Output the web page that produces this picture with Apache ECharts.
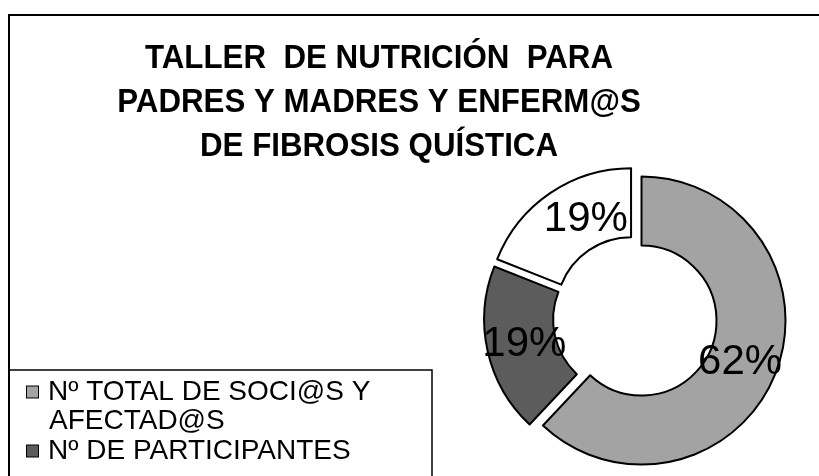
<!DOCTYPE html>
<html>
<head>
<meta charset="utf-8">
<script src="https://cdn.jsdelivr.net/npm/echarts@6/dist/echarts.min.js"></script>
<style>
  html, body { margin: 0; padding: 0; background: #fff; }
  #chart { width: 819px; height: 476px; }
</style>
</head>
<body>
<div id="chart"></div>
<script>
// datos del gráfico
const titleLines = ['TALLER  DE NUTRICIÓN  PARA', 'PADRES Y MADRES Y ENFERM@S', 'DE FIBROSIS QUÍSTICA']
const sliceNames = ['Nº TOTAL DE SOCI@S Y\nAFECTAD@S', 'Nº DE PARTICIPANTES', 'OTROS']
const sliceValues = [62, 19, 19]
const sliceColors = ['#a3a3a3', '#5c5c5c', '#ffffff']
const legendNames = sliceNames.slice(0, 2)
// Excel no centra las etiquetas igual: se desplazan con padding asimétrico
const labelPadding = [[0, 12, 8, 0], [14, 0, 0, 12], [10, 0, 0, 36]]

const chart = echarts.init(document.getElementById('chart'), null, { renderer: 'canvas' })

const legendRich = {
  g: { width: 10 },
  s: { width: 22 },
  t: {
    fontFamily: '"Liberation Sans", Arial, sans-serif',
    fontSize: 28,
    lineHeight: 29,
    color: '#000'
  }
}
legendNames.forEach((n, i) => {
  legendRich['m' + i] = {
    width: 11,
    height: 11,
    backgroundColor: sliceColors[i],
    borderColor: '#000',
    borderWidth: 1
  }
})

const option = {
  animation: false,
  backgroundColor: '#fff',
  legend: {
    orient: 'vertical',
    left: 22,
    top: 378,
    padding: 0,
    data: legendNames,
    itemWidth: 0,
    itemHeight: 0,
    itemGap: 2,
    icon: 'rect',
    itemStyle: { opacity: 0, borderWidth: 0 },
    selectedMode: false,
    formatter: function (name) {
      const i = legendNames.indexOf(name)
      return name.split('\n').map(function (line, j) {
        return (j === 0 ? '{m' + i + '|}{g|}' : '{s|}') + '{t|' + line + '}'
      }).join('\n')
    },
    textStyle: { rich: legendRich }
  },
  graphic: [
    // marco exterior
    {
      type: 'rect',
      shape: { x: 9, y: 15, width: 830, height: 500 },
      style: { fill: 'none', stroke: '#000', lineWidth: 2 },
      silent: true,
      z: -1
    },
    // caja de la leyenda
    {
      type: 'rect',
      shape: { x: 9, y: 370, width: 423, height: 120 },
      style: { fill: 'none', stroke: '#000', lineWidth: 1.5 },
      silent: true,
      z: -1
    },
    // título (la fuente del original es algo más estrecha)
    {
      type: 'text',
      x: 379,
      y: 37,
      scaleX: 0.92,
      style: {
        text: titleLines.join('\n'),
        align: 'center',
        verticalAlign: 'top',
        fontFamily: '"Liberation Sans", Arial, sans-serif',
        fontSize: 34,
        fontWeight: 'bold',
        lineHeight: 44,
        fill: '#000'
      },
      silent: true
    }
  ],
  series: [
    {
      type: 'pie',
      center: [635, 318],
      radius: [75, 144],
      startAngle: 90,
      clockwise: true,
      selectedMode: 'multiple',
      selectedOffset: 7,
      emphasis: { disabled: true },
      itemStyle: { borderColor: '#000', borderWidth: 2 },
      label: {
        show: true,
        position: 'inside',
        formatter: '{d}%',
        fontFamily: '"Liberation Sans", Arial, sans-serif',
        fontSize: 42,
        color: '#000'
      },
      labelLine: { show: false },
      data: sliceNames.map((name, i) => ({
        name: name,
        value: sliceValues[i],
        selected: true,
        itemStyle: { color: sliceColors[i] },
        label: { padding: labelPadding[i] }
      }))
    }
  ]
}

chart.setOption(option)
</script>
</body>
</html>
